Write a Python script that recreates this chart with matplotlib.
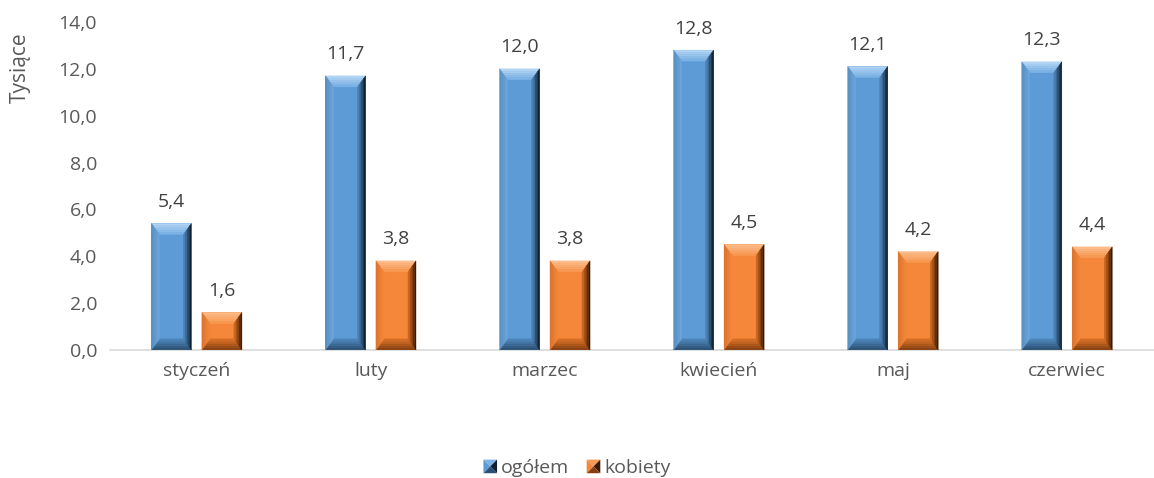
import matplotlib.pyplot as plt
from matplotlib.patches import Polygon, Patch
from matplotlib.legend_handler import HandlerBase
from matplotlib.colors import to_rgb
import numpy as np

months = ['styczeń', 'luty', 'marzec', 'kwiecień', 'maj', 'czerwiec']
ogolem = [5.4, 11.7, 12.0, 12.8, 12.1, 12.3]
kobiety = [1.6, 3.8, 3.8, 4.5, 4.2, 4.4]
yticks = [0, 2, 4, 6, 8, 10, 12, 14]

TXT = '#595959'
plt.rcParams['font.family'] = ['Open Sans', 'DejaVu Sans']

# face colour, then (outer, inner) for top, left, right, bottom bevel
BLUE = {'face': '#5C9BD6', 'top': ('#B2D4F3', '#7CB2E5'), 'left': ('#5A90C2', '#6AA4DA'),
        'right': ('#0E2032', '#4C80B2'), 'bottom': ('#2C5073', '#4B82B5')}
ORANGE = {'face': '#F5873A', 'top': ('#FCBC8A', '#F89953'), 'left': ('#DC742D', '#F1863A'),
          'right': ('#3A1A04', '#C9651F'), 'bottom': ('#874010', '#D46E26')}


def mix(c0, c1, t):
    a, b = np.array(to_rgb(c0)), np.array(to_rgb(c1))
    return tuple(a + (b - a) * t)


def side_polys(x0, y0, x1, y1, bx, by, side, t0, t1):
    if side == 'top':
        return [(x0 + t0 * bx, y1 - t0 * by), (x1 - t0 * bx, y1 - t0 * by),
                (x1 - t1 * bx, y1 - t1 * by), (x0 + t1 * bx, y1 - t1 * by)]
    if side == 'bottom':
        return [(x0 + t0 * bx, y0 + t0 * by), (x1 - t0 * bx, y0 + t0 * by),
                (x1 - t1 * bx, y0 + t1 * by), (x0 + t1 * bx, y0 + t1 * by)]
    if side == 'left':
        return [(x0 + t0 * bx, y0 + t0 * by), (x0 + t0 * bx, y1 - t0 * by),
                (x0 + t1 * bx, y1 - t1 * by), (x0 + t1 * bx, y0 + t1 * by)]
    return [(x1 - t0 * bx, y0 + t0 * by), (x1 - t0 * bx, y1 - t0 * by),
            (x1 - t1 * bx, y1 - t1 * by), (x1 - t1 * bx, y0 + t1 * by)]


def bevel(ax, bars, cols, pxx=8, pxy=11, n=5):
    # size of the bevel in data units, from the axes transform
    inv = ax.transData.inverted()
    p0 = inv.transform((0, 0))
    p1 = inv.transform((pxx, pxy))
    bx, by = p1 - p0
    for b in bars:
        x0, y0 = b.get_x(), b.get_y()
        x1, y1 = x0 + b.get_width(), y0 + b.get_height()
        for side in ['top', 'bottom', 'left', 'right']:
            for k in range(n):
                c = mix(cols[side][0], cols[side][1], k / (n - 1))
                pts = side_polys(x0, y0, x1, y1, bx, by, side, k / n, (k + 1) / n)
                ax.add_patch(Polygon(pts, closed=True, facecolor=c, edgecolor=c,
                                     linewidth=0.3, zorder=3))


class HandlerBevel(HandlerBase):
    def __init__(self, cols):
        super().__init__()
        self.cols = cols

    def create_artists(self, legend, orig_handle, xdescent, ydescent, width, height, fontsize, trans):
        s = min(width, height)
        x0, y0 = -xdescent + (width - s) / 2, -ydescent + (height - s) / 2
        x1, y1 = x0 + s, y0 + s
        cx, cy = (x0 + x1) / 2, (y0 + y1) / 2
        tris = [([(x0, y1), (x1, y1), (cx, cy)], self.cols['top'][1]),
                ([(x0, y0), (x0, y1), (cx, cy)], self.cols['face']),
                ([(x1, y0), (x1, y1), (cx, cy)], self.cols['right'][0]),
                ([(x0, y0), (x1, y0), (cx, cy)], self.cols['bottom'][0])]
        return [Polygon(p, closed=True, facecolor=c, edgecolor='none', transform=trans) for p, c in tris]


fig = plt.figure(figsize=(11.54, 4.78), dpi=100)
ax = fig.add_axes([0.095, 0.268, 0.905, 0.686])

x = np.arange(len(months))
w = 0.23
off = 0.145
ax.set_xlim(-0.5, len(months) - 0.5)
ax.set_ylim(0, 14)

b1 = ax.bar(x - off, ogolem, w, color=BLUE['face'], zorder=2)
b2 = ax.bar(x + off, kobiety, w, color=ORANGE['face'], zorder=2)
bevel(ax, b1, BLUE)
bevel(ax, b2, ORANGE)

for bars, vals in [(b1, ogolem), (b2, kobiety)]:
    for b, v in zip(bars, vals):
        ax.annotate(f'{v:.1f}'.replace('.', ','), (b.get_x() + b.get_width() / 2, v),
                    xytext=(0, 9), textcoords='offset points', ha='center', va='bottom',
                    fontsize=14, color='#404040')

ax.set_yticks(yticks)
ax.set_yticklabels([f'{v:.1f}'.replace('.', ',') for v in yticks], fontsize=14, color=TXT)
ax.set_xticks(x)
ax.set_xticklabels(months, fontsize=14, color=TXT)
ax.tick_params(length=0, pad=9)
for s in ['top', 'right', 'left']:
    ax.spines[s].set_visible(False)
ax.spines['bottom'].set_color('#D9D9D9')
ax.spines['bottom'].set_linewidth(1.2)

ax.set_ylabel('Tysiące', fontsize=15, color=TXT)
ax.yaxis.set_label_coords(-0.075, 0.86)

h1 = Patch(label='ogółem')
h2 = Patch(label='kobiety')
fig.legend(handles=[h1, h2], loc='lower center', bbox_to_anchor=(0.5, -0.035), ncol=2,
           frameon=False, fontsize=14, labelcolor=TXT, handlelength=0.7, handleheight=0.7,
           handletextpad=0.2, columnspacing=0.9,
           handler_map={h1: HandlerBevel(BLUE), h2: HandlerBevel(ORANGE)})

fig.savefig('out.png', dpi=100)
